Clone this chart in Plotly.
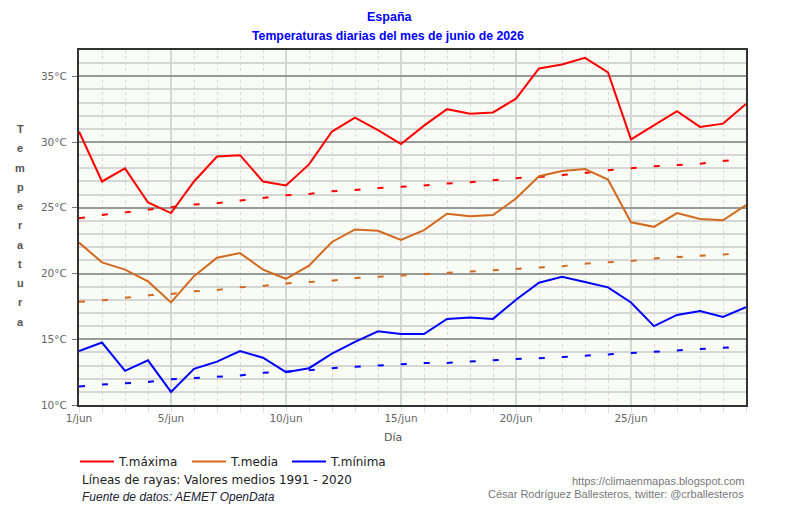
import plotly.graph_objects as go

# ---------------- data ----------------
days = list(range(1, 31))

t_max = [30.8, 27.0, 28.0, 25.4, 24.6, 27.0, 28.9, 29.0, 27.0, 26.7,
         28.3, 30.8, 31.85, 30.9, 29.85, 31.25, 32.5, 32.15, 32.25, 33.3,
         35.6, 35.9, 36.4, 35.3, 30.2, 31.3, 32.35, 31.15, 31.4, 32.9]
t_med = [22.35, 20.85, 20.3, 19.4, 17.8, 19.8, 21.2, 21.55, 20.3, 19.6,
         20.6, 22.4, 23.35, 23.25, 22.55, 23.3, 24.55, 24.35, 24.45, 25.7,
         27.4, 27.8, 27.95, 27.15, 23.9, 23.55, 24.6, 24.15, 24.05, 25.2]
t_min = [14.1, 14.75, 12.6, 13.4, 11.0, 12.75, 13.3, 14.1, 13.6, 12.5,
         12.8, 13.9, 14.8, 15.6, 15.4, 15.4, 16.55, 16.65, 16.55, 18.0,
         19.3, 19.75, 19.35, 18.95, 17.8, 16.0, 16.85, 17.15, 16.7, 17.45]

# normal values 1991-2020
n_max = [24.2, 24.45, 24.65, 24.85, 25.05, 25.25, 25.35, 25.55, 25.75, 25.95,
         26.05, 26.25, 26.35, 26.5, 26.6, 26.7, 26.85, 26.95, 27.1, 27.25,
         27.35, 27.5, 27.65, 27.85, 28.0, 28.15, 28.25, 28.35, 28.55, 28.7]
n_med = [17.85, 17.95, 18.15, 18.35, 18.45, 18.65, 18.75, 18.95, 19.05, 19.25,
         19.35, 19.45, 19.65, 19.75, 19.85, 19.95, 20.05, 20.15, 20.25, 20.35,
         20.45, 20.55, 20.75, 20.85, 20.95, 21.15, 21.25, 21.35, 21.45, 21.55]
n_min = [11.4, 11.55, 11.65, 11.75, 11.95, 12.05, 12.15, 12.25, 12.45, 12.55,
         12.65, 12.8, 12.9, 13.0, 13.1, 13.2, 13.2, 13.3, 13.4, 13.5,
         13.55, 13.65, 13.75, 13.85, 13.95, 14.05, 14.15, 14.25, 14.35, 14.45]

x_tickvals = [1, 5, 10, 15, 20, 25]
x_ticktext = ["1/jun", "5/jun", "10/jun", "15/jun", "20/jun", "25/jun"]

# name, values, normals, colour, dash pattern of the normals line, legend entry width
series = [("T.máxima", t_max, n_max, "#ff0000", "6px,17.09px", 63),
          ("T.media", t_med, n_med, "#d2691e", "6px,17.06px", 51),
          ("T.mínima", t_min, n_min, "#0000ff", "6px,17.04px", 60)]

# ---------------- figure ----------------
W, H = 785, 506
L, R, T, B = 79, 39, 50, 101
pw, ph = W - L - R, H - T - B

fig = go.Figure()
for name, vals, norms, col, dsh, lw in series:
    fig.add_trace(go.Scatter(x=days, y=norms, mode="lines", showlegend=False,
                             line=dict(color=col, width=2, dash=dsh, simplify=False),
                             hoverinfo="skip"))
for name, vals, norms, col, dsh, lw in series:
    fig.add_trace(go.Scatter(x=days, y=vals, mode="lines", name=name, legendwidth=lw,
                             line=dict(color=col, width=2)))

def px(xp):
    return (xp - L) / pw

def py(yp):
    return (H - B - yp) / ph

ann = []
title_font = "Liberation Sans, Arial, sans-serif"
ann.append(dict(x=px(390), y=py(17), text="<b>España</b>", showarrow=False,
                xref="paper", yref="paper", xanchor="center", yanchor="middle",
                font=dict(family=title_font, size=12.5, color="#0000ff")))
ann.append(dict(x=px(388), y=py(36), text="<b>Temperaturas diarias del mes de junio de 2026</b>",
                showarrow=False, xref="paper", yref="paper", xanchor="center", yanchor="middle",
                font=dict(family=title_font, size=12.3, color="#0000ff")))
for i, ch in enumerate("Temperatura"):
    ann.append(dict(x=px(20), y=py(129 + 19.27 * i), text="<b>%s</b>" % ch, showarrow=False,
                    xref="paper", yref="paper", xanchor="center", yanchor="middle",
                    font=dict(family="Liberation Sans, Arial, sans-serif", size=11, color="#555555")))
ann.append(dict(x=px(392.5), y=py(437), text="Día", showarrow=False,
                xref="paper", yref="paper", xanchor="center", yanchor="middle",
                font=dict(family="DejaVu Sans", size=11, color="#555555")))
ann.append(dict(x=px(80), y=py(480), text="Líneas de rayas: Valores medios 1991 - 2020",
                showarrow=False, xref="paper", yref="paper", xanchor="left", yanchor="middle",
                font=dict(family="DejaVu Sans", size=12, color="#222222")))
ann.append(dict(x=px(80), y=py(497), text="<i>Fuente de datos: AEMET OpenData</i>",
                showarrow=False, xref="paper", yref="paper", xanchor="left", yanchor="middle",
                font=dict(family="Liberation Sans, Arial, sans-serif", size=12, color="#222233")))
ann.append(dict(x=px(746), y=py(481), text="https://climaenmapas.blogspot.com",
                showarrow=False, xref="paper", yref="paper", xanchor="right", yanchor="middle",
                font=dict(family="Liberation Sans, Arial, sans-serif", size=11, color="#777777")))
ann.append(dict(x=px(746), y=py(494), text="César Rodríguez Ballesteros, twitter: @crballesteros",
                showarrow=False, xref="paper", yref="paper", xanchor="right", yanchor="middle",
                font=dict(family="Liberation Sans, Arial, sans-serif", size=11, color="#777777")))

fig.update_layout(
    width=W, height=H,
    margin=dict(l=L, r=R, t=T, b=B, pad=0),
    paper_bgcolor="white",
    plot_bgcolor="#f8fcf5",
    annotations=ann,
    legend=dict(orientation="h", xref="container", yref="container",
                x=75 / W, y=1 - 447 / H, xanchor="left", yanchor="top",
                itemwidth=34, entrywidthmode="pixels",
                font=dict(family="DejaVu Sans", size=12, color="#222222"),
                bgcolor="rgba(0,0,0,0)", traceorder="normal"),
    hovermode=False,
)

fig.update_xaxes(
    range=[1, 30], tickmode="array", tickvals=x_tickvals, ticktext=x_ticktext,
    showgrid=True, gridcolor="#d6d6d6", gridwidth=1.5,
    showline=True, linecolor="#333333", linewidth=2, mirror=True,
    ticks="", ticklabelstandoff=2,
    tickfont=dict(family="DejaVu Sans", size=10.5, color="#666666"),
    minor=dict(dtick=1, tick0=1, showgrid=True, gridcolor="#dadada", griddash="dot",
               gridwidth=1, ticks="outside", ticklen=6, tickcolor="#e0e0e0"),
    zeroline=False, fixedrange=True,
)
fig.update_yaxes(
    range=[10, 37], tick0=10, dtick=5, ticksuffix="°C",
    showgrid=True, gridcolor="#999999", gridwidth=1.5,
    showline=True, linecolor="#333333", linewidth=2, mirror=True,
    ticks="outside", ticklen=5, tickcolor="#777777", ticklabelstandoff=3,
    tickfont=dict(family="DejaVu Sans", size=10.5, color="#666666"),
    minor=dict(dtick=1, tick0=10, showgrid=True, gridcolor="#d6d6d6", gridwidth=1.5),
    zeroline=False, fixedrange=True,
)

fig.write_html("out.html")
